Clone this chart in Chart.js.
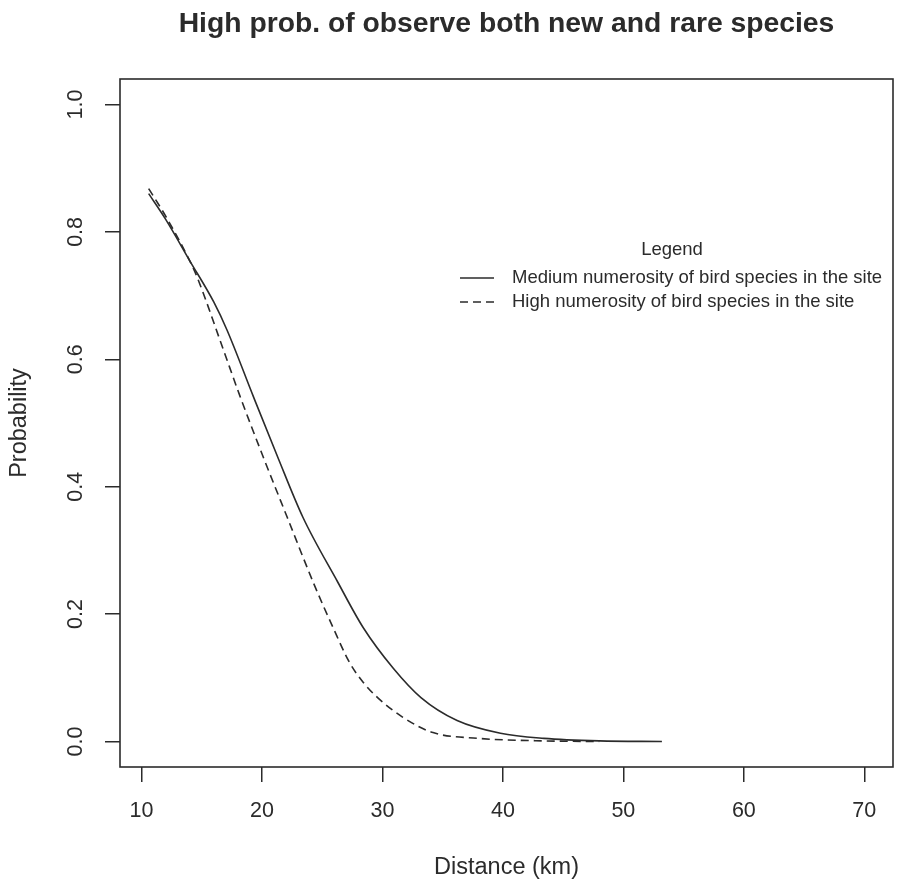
<!DOCTYPE html>
<html>
<head>
<meta charset="utf-8">
<script src="https://cdn.jsdelivr.net/npm/chart.js@4.4.0/dist/chart.umd.min.js"></script>
<style>
  html, body { margin: 0; padding: 0; background: #fff; }
  #wrap { width: 897px; height: 882px; }
</style>
</head>
<body>
<div id="wrap"><canvas id="chart" width="897" height="882"></canvas></div>
<script>
const FONT = '"Liberation Sans", Arial, Helvetica, sans-serif'
const INK = '#2b2b2b'

const chartTitle = 'High prob. of observe both new and rare species'
const xTitle = 'Distance (km)'
const yTitle = 'Probability'
const legendTitle = 'Legend'

const xTicks = [10, 20, 30, 40, 50, 60, 70]
const yTicks = [0, 0.2, 0.4, 0.6, 0.8, 1.0]

// medium numerosity (solid)
const medDist = [10.6, 12, 14, 16, 17.1, 19.3, 21.3, 23.4, 26.3, 28.4, 30.9, 33.2, 36.2, 39.8, 43.4, 48, 53.2]
const medProb = [0.86, 0.82, 0.755, 0.69, 0.646, 0.541, 0.447, 0.352, 0.25, 0.179, 0.115, 0.069, 0.033, 0.013, 0.005, 0.001, 0.0]

// high numerosity (dashed)
const highDist = [10.6, 12, 14, 14.6, 16.8, 18.2, 20.1, 22.1, 24.3, 25.9, 27.3, 28.4, 29.6, 31.7, 34.2, 37.9, 43.4, 48]
const highProb = [0.868, 0.825, 0.755, 0.73, 0.615, 0.541, 0.447, 0.352, 0.248, 0.179, 0.123, 0.093, 0.069, 0.038, 0.014, 0.005, 0.001, 0.0]

const toPoints = (xs, ys) => xs.map((x, i) => ({x: x, y: ys[i]}))

// R-style extras: box, rotated y labels, titles and the inset legend
const rPlot = {
    id: 'rPlot',
    afterDraw(chart) {
        const ctx = chart.ctx
        const area = chart.chartArea
        const yScale = chart.scales.y
        ctx.save()

        ctx.strokeStyle = INK
        ctx.lineWidth = 1.6
        ctx.strokeRect(area.left, area.top, area.right - area.left, area.bottom - area.top)

        ctx.fillStyle = INK
        ctx.textAlign = 'center'
        ctx.textBaseline = 'middle'
        ctx.font = '21.5px ' + FONT
        yScale.ticks.forEach(t => {
            const py = yScale.getPixelForValue(t.value)
            ctx.save()
            ctx.translate(76, py)
            ctx.rotate(-Math.PI / 2)
            ctx.fillText(t.value.toFixed(1), 0, 0)
            ctx.restore()
        })

        const cx = (area.left + area.right) / 2
        ctx.font = 'bold 28.3px ' + FONT
        ctx.textBaseline = 'alphabetic'
        ctx.fillText(chartTitle, cx, 32)

        ctx.font = '23.5px ' + FONT
        ctx.textBaseline = 'middle'
        ctx.fillText(xTitle, cx, 868)
        ctx.save()
        ctx.translate(20, (area.top + area.bottom) / 2)
        ctx.rotate(-Math.PI / 2)
        ctx.fillText(yTitle, 0, 0)
        ctx.restore()

        // legend
        ctx.font = '18.5px ' + FONT
        ctx.fillText(legendTitle, 672, 250)
        ctx.textAlign = 'left'
        chart.data.datasets.forEach((ds, i) => {
            const ly = 278 + i * 24
            ctx.beginPath()
            ctx.setLineDash(ds.borderDash || [])
            ctx.lineWidth = ds.borderWidth
            ctx.strokeStyle = ds.borderColor
            ctx.moveTo(460, ly)
            ctx.lineTo(494, ly)
            ctx.stroke()
            ctx.setLineDash([])
            ctx.fillText(ds.label, 512, ly)
        })
        ctx.restore()
    }
}

new Chart(document.getElementById('chart').getContext('2d'), {
    type: 'scatter',
    data: {
        datasets: [
            {
                label: 'Medium numerosity of bird species in the site',
                data: toPoints(medDist, medProb),
                showLine: true,
                borderColor: INK,
                borderWidth: 1.6,
                pointRadius: 0,
                cubicInterpolationMode: 'monotone'
            },
            {
                label: 'High numerosity of bird species in the site',
                data: toPoints(highDist, highProb),
                showLine: true,
                borderColor: INK,
                borderWidth: 1.6,
                borderDash: [8, 5],
                pointRadius: 0,
                cubicInterpolationMode: 'monotone'
            }
        ]
    },
    options: {
        responsive: false,
        animation: false,
        devicePixelRatio: 1,
        layout: {padding: {top: 79, right: 4, left: 0, bottom: 0}},
        plugins: {
            legend: {display: false},
            title: {display: false},
            tooltip: {enabled: false}
        },
        scales: {
            x: {
                type: 'linear',
                min: 8.22,
                max: 72.38,
                afterBuildTicks: s => { s.ticks = xTicks.map(v => ({value: v})) },
                afterFit: s => { s.height = 115 },
                border: {display: false},
                grid: {drawOnChartArea: false, drawTicks: true, tickLength: 15, color: INK, lineWidth: 1.5},
                ticks: {color: INK, font: {family: FONT, size: 21.5}, padding: 16, maxRotation: 0}
            },
            y: {
                type: 'linear',
                min: -0.04,
                max: 1.04,
                afterBuildTicks: s => { s.ticks = yTicks.map(v => ({value: v})) },
                afterFit: s => { s.width = 120 },
                border: {display: false},
                grid: {drawOnChartArea: false, drawTicks: true, tickLength: 15, color: INK, lineWidth: 1.5},
                ticks: {display: false}
            }
        }
    },
    plugins: [rPlot]
})
</script>
</body>
</html>
